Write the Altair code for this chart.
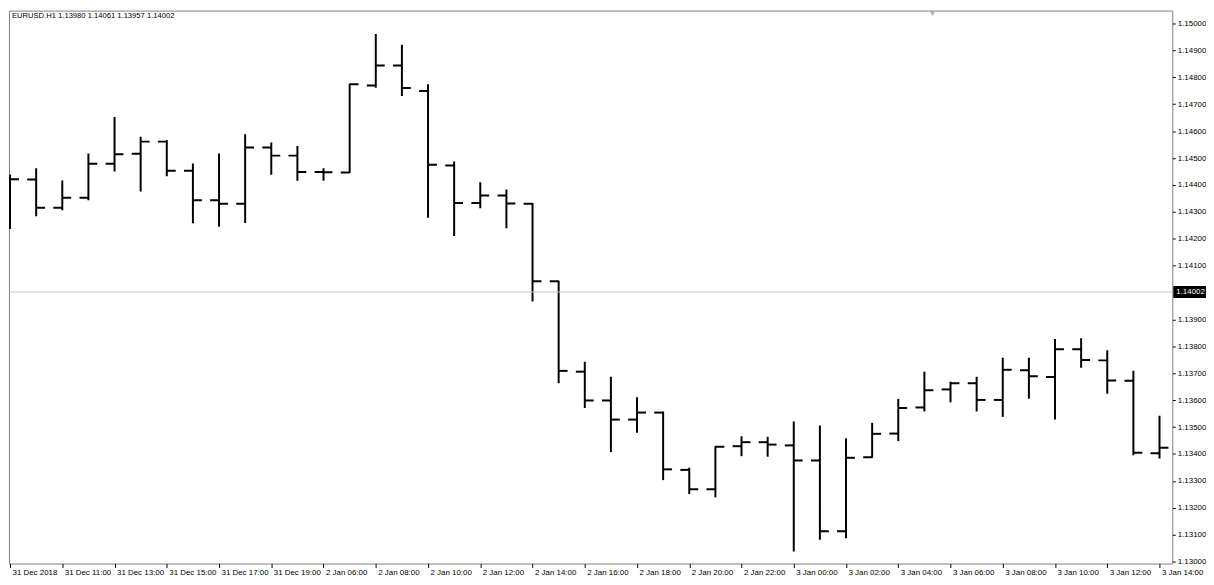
import json
import altair as alt
import pandas as pd

symbol = "EURUSD.H1"
quote = [1.13980, 1.14061, 1.13957, 1.14002]

opens = [1.14350, 1.14420, 1.14315, 1.14352, 1.14479, 1.14516, 1.14561, 1.14453, 1.14343, 1.14330,
         1.14539, 1.14509, 1.14448, 1.14446, 1.14770, 1.14844, 1.14749, 1.14472, 1.14333, 1.14361,
         1.14330, 1.14042, 1.13706, 1.13599, 1.13528, 1.13554, 1.13341, 1.13269, 1.13429, 1.13444,
         1.13432, 1.13376, 1.13113, 1.13388, 1.13476, 1.13573, 1.13640, 1.13663, 1.13601, 1.13711,
         1.13686, 1.13789, 1.13748, 1.13672, 1.13403]
highs = [1.14439, 1.14462, 1.14417, 1.14517, 1.14653, 1.14579, 1.14567, 1.14480, 1.14517, 1.14588,
         1.14558, 1.14545, 1.14462, 1.14776, 1.14961, 1.14921, 1.14774, 1.14487, 1.14410, 1.14383,
         1.14333, 1.14044, 1.13743, 1.13687, 1.13611, 1.13558, 1.13349, 1.13429, 1.13466, 1.13464,
         1.13521, 1.13506, 1.13458, 1.13516, 1.13605, 1.13706, 1.13669, 1.13687, 1.13758, 1.13758,
         1.13827, 1.13830, 1.13786, 1.13709, 1.13542]
lows = [1.14236, 1.14284, 1.14306, 1.14343, 1.14450, 1.14376, 1.14432, 1.14258, 1.14245, 1.14259,
        1.14438, 1.14416, 1.14416, 1.14444, 1.14761, 1.14731, 1.14278, 1.14210, 1.14313, 1.14239,
        1.13967, 1.13663, 1.13571, 1.13407, 1.13479, 1.13303, 1.13251, 1.13239, 1.13392, 1.13390,
        1.13038, 1.13081, 1.13087, 1.13386, 1.13448, 1.13558, 1.13592, 1.13558, 1.13538, 1.13605,
        1.13528, 1.13721, 1.13624, 1.13395, 1.13383]
closes = [1.14421, 1.14315, 1.14352, 1.14479, 1.14514, 1.14561, 1.14453, 1.14343, 1.14330, 1.14539,
          1.14509, 1.14448, 1.14447, 1.14774, 1.14844, 1.14760, 1.14475, 1.14333, 1.14361, 1.14331,
          1.14042, 1.13709, 1.13599, 1.13528, 1.13554, 1.13343, 1.13269, 1.13427, 1.13444, 1.13435,
          1.13376, 1.13113, 1.13386, 1.13475, 1.13571, 1.13637, 1.13663, 1.13601, 1.13713, 1.13689,
          1.13789, 1.13749, 1.13673, 1.13405, 1.13423]

time_labels = ["31 Dec 2018", "31 Dec 11:00", "31 Dec 13:00", "31 Dec 15:00", "31 Dec 17:00",
               "31 Dec 19:00", "2 Jan 06:00", "2 Jan 08:00", "2 Jan 10:00", "2 Jan 12:00",
               "2 Jan 14:00", "2 Jan 16:00", "2 Jan 18:00", "2 Jan 20:00", "2 Jan 22:00",
               "3 Jan 00:00", "3 Jan 02:00", "3 Jan 04:00", "3 Jan 06:00", "3 Jan 08:00",
               "3 Jan 10:00", "3 Jan 12:00", "3 Jan 14:00"]
price_ticks = [1.130, 1.131, 1.132, 1.133, 1.134, 1.135, 1.136, 1.137, 1.138, 1.139,
               1.141, 1.142, 1.143, 1.144, 1.145, 1.146, 1.147, 1.148, 1.149, 1.150]

FONT = "Liberation Sans"
W, H = 1174, 558
n = len(opens)

df = pd.DataFrame({"i": list(range(n)), "open": opens, "high": highs,
                   "low": lows, "close": closes})
last = pd.DataFrame({"price": [quote[3]], "label": [f"{quote[3]:.5f}"]})
header = f"{symbol}  " + " ".join(f"{q:.5f}" for q in quote)

xscale = alt.Scale(domain=[-0.04, 44.49], nice=False, zero=False)
yscale = alt.Scale(domain=[1.12993, 1.15048], nice=False, zero=False)

label_expr = json.dumps(time_labels) + "[round(datum.value / 2)]"

x_axis = alt.Axis(values=list(range(0, n, 2)), labelExpr=label_expr, title=None,
                  orient="bottom", domain=False, grid=False, tickSize=4, tickColor="#000000",
                  labelAlign="left", labelOffset=2, labelPadding=1, labelBaseline="top",
                  labelFont=FONT, labelFontSize=8, labelColor="#000000",
                  labelOverlap=False, labelFlush=False, labelBound=False)
y_axis = alt.Axis(values=price_ticks, format=".5f", title=None, orient="right",
                  domain=False, grid=False, tickSize=3, tickColor="#000000",
                  labelPadding=2, labelFont=FONT, labelFontSize=8, labelColor="#000000",
                  labelOverlap=False, labelFlush=False, labelBound=False)

X = alt.X("i:Q", scale=xscale, axis=x_axis)


def Y(field):
    return alt.Y(field, scale=yscale, axis=y_axis)


base = alt.Chart(df)

hl = base.mark_rule(color="#000000", strokeWidth=2, clip=True).encode(
    x=X, y=Y("low:Q"), y2="high:Q",
)
price_line = alt.Chart(last).mark_rule(color="#c8c8c8", strokeWidth=1).encode(
    y=Y("price:Q")
)
open_tick = base.mark_tick(color="#000000", orient="horizontal", size=9, thickness=2,
                           xOffset=-4.5, clip=True, opacity=1).encode(
    x=X, y=Y("open:Q"),
)
close_tick = base.mark_tick(color="#000000", orient="horizontal", size=9, thickness=2,
                            xOffset=4.5, clip=True, opacity=1).encode(
    x=X, y=Y("close:Q"),
)

box = alt.Chart(last).mark_rect(color="#000000", yOffset=-6, y2Offset=6, clip=False).encode(
    x=alt.value(W + 1), x2=alt.value(W + 34),
    y=Y("price:Q"), y2="price:Q",
)
box_text = alt.Chart(last).mark_text(color="#ffffff", font=FONT, fontSize=8, align="left",
                                     baseline="middle", clip=False).encode(
    x=alt.value(W + 4), y=Y("price:Q"), text="label:N",
)

head = alt.Chart(last).mark_text(color="#000000", font=FONT, fontSize=7.7, align="left",
                                 baseline="middle").encode(
    x=alt.value(3), y=alt.value(5), text=alt.value(header),
)
marker = alt.Chart(last).mark_point(shape="triangle-down", filled=True, color="#b0b0b0",
                                    size=30, opacity=1, clip=True).encode(
    x=alt.value(932), y=alt.value(3),
)

chart = alt.layer(hl, price_line, open_tick, close_tick, box, box_text, head, marker).properties(
    width=W, height=H, padding={"left": 0, "top": 0, "right": 0, "bottom": 0},
    background="#ffffff",
).configure_view(stroke="#808080", strokeWidth=1).configure_axis(labelOverlap=False)

chart.save("out.html", embed_options={"renderer": "svg", "actions": False})
